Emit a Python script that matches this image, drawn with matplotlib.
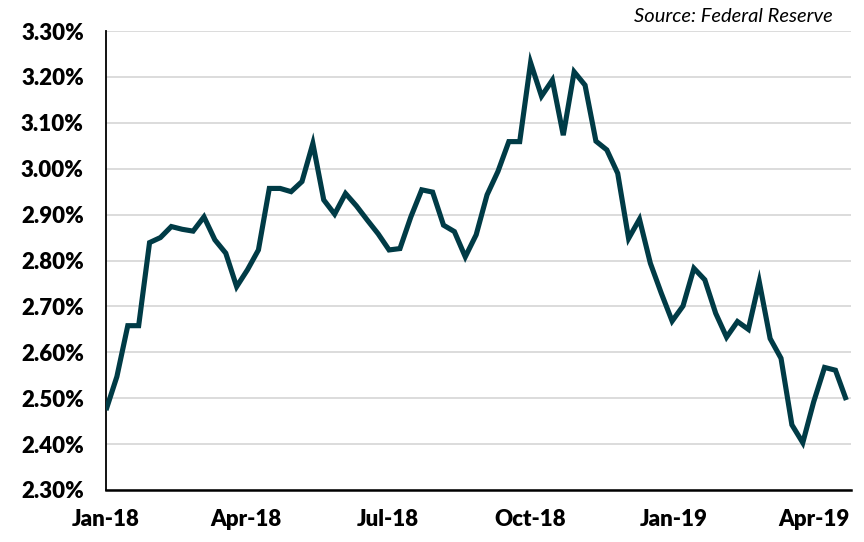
import matplotlib
matplotlib.use("Agg")
import matplotlib.pyplot as plt
import matplotlib.ticker as mticker
import pandas as pd

start_date = "2018-01-05"
yields = [
    2.474, 2.547, 2.658, 2.658, 2.839, 2.850, 2.874, 2.868, 2.864, 2.895,
    2.845, 2.816, 2.743, 2.780, 2.823, 2.957, 2.957, 2.950, 2.972, 3.055,
    2.932, 2.901, 2.946, 2.919, 2.888, 2.858, 2.823, 2.826, 2.895, 2.954,
    2.949, 2.877, 2.863, 2.808, 2.856, 2.943, 2.994, 3.059, 3.059, 3.231,
    3.158, 3.193, 3.073, 3.211, 3.182, 3.060, 3.041, 2.990, 2.848, 2.890,
    2.794, 2.729, 2.668, 2.701, 2.783, 2.758, 2.685, 2.633, 2.667, 2.650,
    2.754, 2.630, 2.587, 2.442, 2.403, 2.492, 2.567, 2.561, 2.496,
]
dates = pd.date_range(start_date, periods=len(yields), freq="7D")

tick_dates = pd.to_datetime(["2018-01-05", "2018-04-05", "2018-07-05",
                             "2018-10-05", "2019-01-05", "2019-04-05"])
tick_labels = ["Jan-18", "Apr-18", "Jul-18", "Oct-18", "Jan-19", "Apr-19"]
y_ticks = [2.30, 2.40, 2.50, 2.60, 2.70, 2.80, 2.90, 3.00, 3.10, 3.20, 3.30]
source_text = "Source: Federal Reserve"

plt.rcParams['font.family'] = ['Lato', 'DejaVu Sans']

fig = plt.figure(figsize=(8.64, 5.42), dpi=100)
ax = fig.add_axes([106/864, 1 - 490/542, (851 - 106)/864, (490 - 31)/542])

ax.plot(dates, yields, color="#003B46", lw=3.7, solid_joinstyle="miter",
        solid_capstyle="butt", zorder=3)

ax.set_ylim(y_ticks[0], y_ticks[-1])
ax.set_yticks(y_ticks)
ax.yaxis.set_major_formatter(mticker.FuncFormatter(lambda v, p: f"{v:.2f}%"))
ax.set_xlim(dates[0], dates[-1] + pd.Timedelta(days=3))
ax.set_xticks(tick_dates)
ax.set_xticklabels(tick_labels)

ax.grid(axis="y", color="#D9D9D9", lw=1.3, zorder=0)
ax.set_axisbelow(True)
for s in ["top", "right"]:
    ax.spines[s].set_visible(False)
ax.spines["left"].set_linewidth(1.3)
ax.spines["bottom"].set_linewidth(1.8)
ax.spines["left"].set_color("black")
ax.spines["bottom"].set_color("black")

ax.tick_params(axis="both", length=0, labelsize=16, labelcolor="black")
ax.tick_params(axis="y", pad=16)
ax.tick_params(axis="x", pad=14)
for lab in ax.get_xticklabels() + ax.get_yticklabels():
    lab.set_fontweight("heavy")

fig.text(833/864, 1 - 17/542, source_text, ha="right", va="center",
         fontsize=14.5, style="italic", color="black")

fig.savefig("out.png", dpi=100)
